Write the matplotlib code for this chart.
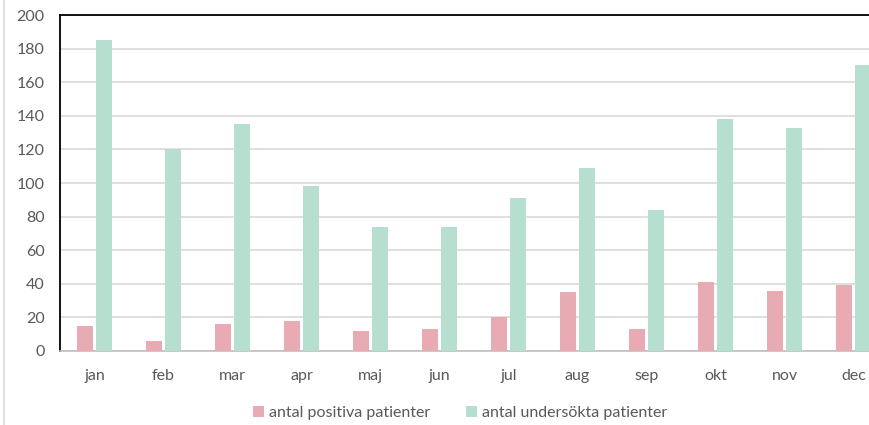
import numpy as np
import matplotlib.pyplot as plt
from matplotlib.lines import Line2D

plt.rcParams['font.family'] = ['Lato', 'DejaVu Sans']

months = ['jan', 'feb', 'mar', 'apr', 'maj', 'jun', 'jul', 'aug', 'sep', 'okt', 'nov', 'dec']
positiva = [15, 6, 16, 18, 12, 13, 20, 35, 13, 41, 36, 39]
undersokta = [185, 120, 135, 98, 74, 74, 91, 109, 84, 138, 133, 170]

pink = '#e8abb3'
green = '#b6dfd0'
txt = '#595959'

fig = plt.figure(figsize=(8.69, 4.25), dpi=100)
# plot area runs past the right edge, as in the cropped original
ax = fig.add_axes([60/869, 74/425, 828/869, 336/425])

x = np.arange(len(months))
w = 0.225
ax.bar(x - 0.137, positiva, w, color=pink, label='antal positiva patienter', zorder=3)
ax.bar(x + 0.137, undersokta, w, color=green, label='antal undersökta patienter', zorder=3)

ax.set_xlim(-0.5, 11.5)
ax.set_ylim(0, 200)
ax.set_yticks(range(0, 201, 20))
ax.set_xticks(x)
ax.set_xticklabels(months)
ax.yaxis.grid(True, color='#d9d9d9', linewidth=1.2, zorder=0)
ax.tick_params(axis='both', length=0, labelsize=11.5, labelcolor=txt)
ax.tick_params(axis='y', pad=11)
ax.tick_params(axis='x', pad=13)

for s in ['left', 'top', 'right']:
    ax.spines[s].set_color('black')
    ax.spines[s].set_linewidth(1.3)
ax.spines['bottom'].set_color('#bfbfbf')
ax.spines['bottom'].set_linewidth(1.2)

ax.legend(loc='center', bbox_to_anchor=(460/869, 12/425), bbox_transform=fig.transFigure,
          ncol=2, frameon=False, fontsize=11.5, labelcolor=txt,
          handlelength=0.7, handleheight=0.7, handletextpad=0.3, columnspacing=2.2)

# chart frame edge on the left
fig.add_artist(Line2D([4/869, 4/869], [0, 1], transform=fig.transFigure, color='#d9d9d9', linewidth=1.2))

fig.savefig('out.png', dpi=100)
